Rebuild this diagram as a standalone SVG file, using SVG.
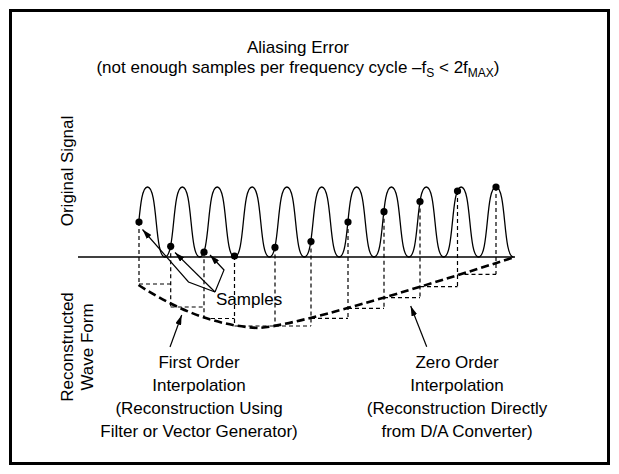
<svg xmlns="http://www.w3.org/2000/svg" width="619" height="474" viewBox="0 0 619 474">
<style>
text{font-family:"Liberation Sans",Arial,sans-serif;font-size:17px;fill:#000}
.ln{fill:none;stroke:#000;stroke-width:1.3}
.thin{fill:none;stroke:#000;stroke-width:1.2;stroke-dasharray:4 3}
.thick{fill:none;stroke:#000;stroke-width:2.6;stroke-dasharray:8 4}
.arr{fill:none;stroke:#000;stroke-width:1.2;marker-end:url(#ah)}
.dot{fill:#000}
</style>
<defs>
<marker id="ah" markerUnits="userSpaceOnUse" markerWidth="10" markerHeight="6" refX="10" refY="3" orient="auto">
<path d="M0,0 L10,3 L0,6 z" fill="#000"/>
</marker>
</defs>
<rect x="10.5" y="10.5" width="598" height="453" fill="#fff" stroke="#000" stroke-width="3"/>
<g id="title">
<text x="298" y="53" text-anchor="middle">Aliasing Error</text>
<text x="298" y="73" text-anchor="middle">(not enough samples per frequency cycle –f<tspan font-size="12" dy="4">S</tspan><tspan dy="-4"> &lt; 2f</tspan><tspan font-size="12" dy="4">MAX</tspan><tspan dy="-4">)</tspan></text>
</g>
<g id="axis-labels">
<text transform="translate(73,171) rotate(-90)" text-anchor="middle">Original Signal</text>
<text transform="translate(73,347) rotate(-90)" text-anchor="middle">Reconstructed</text>
<text transform="translate(93,347) rotate(-90)" text-anchor="middle">Wave Form</text>
</g>
<g id="baseline"><path class="ln" d="M78,257 H515"/></g>
<g id="signal">
<path class="ln" d="M138.79,222 C140.52,204.5 142.25,187 147.5,187 c10.5,0 6.925,70 17.425,70 s6.925,-70 17.425,-70 s6.925,70 17.425,70 s6.925,-70 17.425,-70 s6.925,70 17.425,70 s6.925,-70 17.425,-70 s6.925,70 17.425,70 s6.925,-70 17.425,-70 s6.925,70 17.425,70 s6.925,-70 17.425,-70 s6.925,70 17.425,70 s6.925,-70 17.425,-70 s6.925,70 17.425,70 s6.925,-70 17.425,-70 s6.925,70 17.425,70 s6.925,-70 17.425,-70 s6.925,70 17.425,70 s6.925,-70 17.425,-70 s6.925,70 17.425,70 s6.925,-70 17.425,-70 s6.925,70 17.425,70"/>
</g>
<g id="zero-order">
<path class="thin" d="M139,222 V284 M170.7,246.3 V307 M204,252.2 V318.5 M234.5,256 V326 M275,247.4 V326 M311,241.5 V326 M348,222 V318.3 M384,211.7 V308.3 M420,201.5 V297.7 M457.5,191 V286.7 M496,187 V274.3"/>
<path class="thin" d="M139,284 H170.7 M170.7,307 H204 M204,318.5 H234.5 M234.5,326 H275 M275,326 H311 M311,318.3 H348 M348,308.3 H384 M384,297.7 H420 M420,286.7 H457.5 M457.5,274.3 H496"/>
</g>
<g id="first-order">
<path class="thick" d="M138.5,285 Q200,325 258,328 Q300,326 515,257"/>
</g>
<g id="samples">
<circle class="dot" cx="139" cy="222" r="3.6"/>
<circle class="dot" cx="170.7" cy="246.3" r="3.6"/>
<circle class="dot" cx="204" cy="252.2" r="3.6"/>
<circle class="dot" cx="234.5" cy="256" r="3.6"/>
<circle class="dot" cx="275" cy="247.4" r="3.6"/>
<circle class="dot" cx="311" cy="241.5" r="3.6"/>
<circle class="dot" cx="348" cy="222" r="3.6"/>
<circle class="dot" cx="384" cy="211.7" r="3.6"/>
<circle class="dot" cx="420" cy="201.5" r="3.6"/>
<circle class="dot" cx="457.5" cy="191" r="3.6"/>
<circle class="dot" cx="496" cy="187" r="3.6"/>
</g>
<g id="connectors">
<path class="arr" d="M215,292 L188.5,282 L142.5,229.5"/>
<path class="arr" d="M215,292 L175,252.5"/>
<path class="arr" d="M215,292 L224,270 L210,255"/>
<path class="arr" d="M170,347 L181.7,315"/>
<path class="arr" d="M426.7,346.7 L410.7,306"/>
</g>
<g id="samples-label"><text x="216" y="305">Samples</text></g>
<g id="first-order-label">
<text x="199" y="368" text-anchor="middle">First Order</text>
<text x="199" y="391" text-anchor="middle">Interpolation</text>
<text x="199" y="414" text-anchor="middle">(Reconstruction Using</text>
<text x="199" y="437" text-anchor="middle">Filter or Vector Generator)</text>
</g>
<g id="zero-order-label">
<text x="457" y="368" text-anchor="middle">Zero Order</text>
<text x="457" y="391" text-anchor="middle">Interpolation</text>
<text x="457" y="414" text-anchor="middle">(Reconstruction Directly</text>
<text x="457" y="437" text-anchor="middle">from D/A Converter)</text>
</g>
</svg>
